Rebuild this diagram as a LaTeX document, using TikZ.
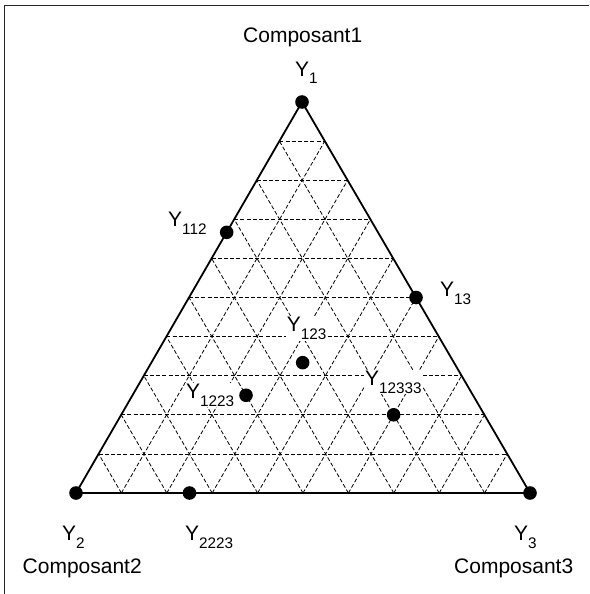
\documentclass[tikz,border=0pt]{standalone}
\usepackage{fontspec}
\setmainfont{Liberation Sans}
\usetikzlibrary{calc}
\newcommand{\sbs}[1]{\raisebox{-8pt}{\fontsize{15.3}{16}\selectfont #1}}
\tikzset{
  grid line/.style={dash pattern=on 4pt off 2.2pt, line width=0.8pt},
  side/.style={line width=1.8pt, line join=round},
  dot/.style={circle, fill=black, inner sep=0pt, minimum size=13.6pt},
  lab/.style={font=\fontsize{21}{25}\selectfont, inner sep=1pt, anchor=base west},
  inlab/.style={lab, fill=white},
  frame/.style={line width=1.3pt, draw=black!85}
}
\begin{document}
\begin{tikzpicture}[x=1pt, y=-1pt]
\useasboundingbox (0,0) rectangle (589,594);
\fill[white] (0,0) rectangle (589,594);
\draw[frame] (4.5,594) -- (4.5,5.5) -- (589,5.5);
\coordinate (A) at (302,102);
\coordinate (B) at (76,493);
\coordinate (C) at (530,493);
% grid
\foreach \i in {1,...,9}{
  \draw[grid line] ($(B)!\i/10!(A)$) -- ($(C)!\i/10!(A)$);
  \draw[grid line] ($(B)!\i/10!(C)$) -- ($(C)!{(10-\i)/10}!(A)$);
  \draw[grid line] ($(B)!\i/10!(C)$) -- ($(B)!\i/10!(A)$);
}
\draw[side] (A) -- (B) -- (C) -- cycle;
% points
\node[dot] (y1) at (A) {};
\node[dot] (y2) at (B) {};
\node[dot] (y3) at (C) {};
\node[dot] (y112) at ($(A)!1/3!(B)$) {};
\node[dot] (y13) at ($(A)!1/2!(C)$) {};
\node[dot] (y2223) at ($(B)!1/4!(C)$) {};
\node[dot] (y123) at ($1/3*(A)+1/3*(B)+1/3*(C)$) {};
\node[dot] (y1223) at ($0.25*(A)+0.5*(B)+0.25*(C)$) {};
\node[dot] (y12333) at ($0.2*(A)+0.2*(B)+0.6*(C)$) {};
% labels
\node[lab] (c1) at (242,43) {Composant1};
\node[lab] (c2) at (21.5,573.5) {Composant2};
\node[lab] (c3) at (453,573.5) {Composant3};
\node[lab] (l1) at (294,76) {Y\sbs{1}};
\node[lab] (l2) at (61,540) {Y\sbs{2}};
\node[lab] (l3) at (513,540) {Y\sbs{3}};
\node[lab] (l2223) at (184,540) {Y\sbs{2223}};
\node[lab] (l112) at (167,226.7) {Y\sbs{112}};
\node[lab] (l13) at (439,296.7) {Y\sbs{13}};
\node[inlab] (l123) at (285.7,331.7) {Y\sbs{123}};
\node[inlab] (l1223) at (185,398) {Y\sbs{1223}};
\node[inlab] (l12333) at (364,385) {Y\sbs{12333}};
\end{tikzpicture}
\end{document}
